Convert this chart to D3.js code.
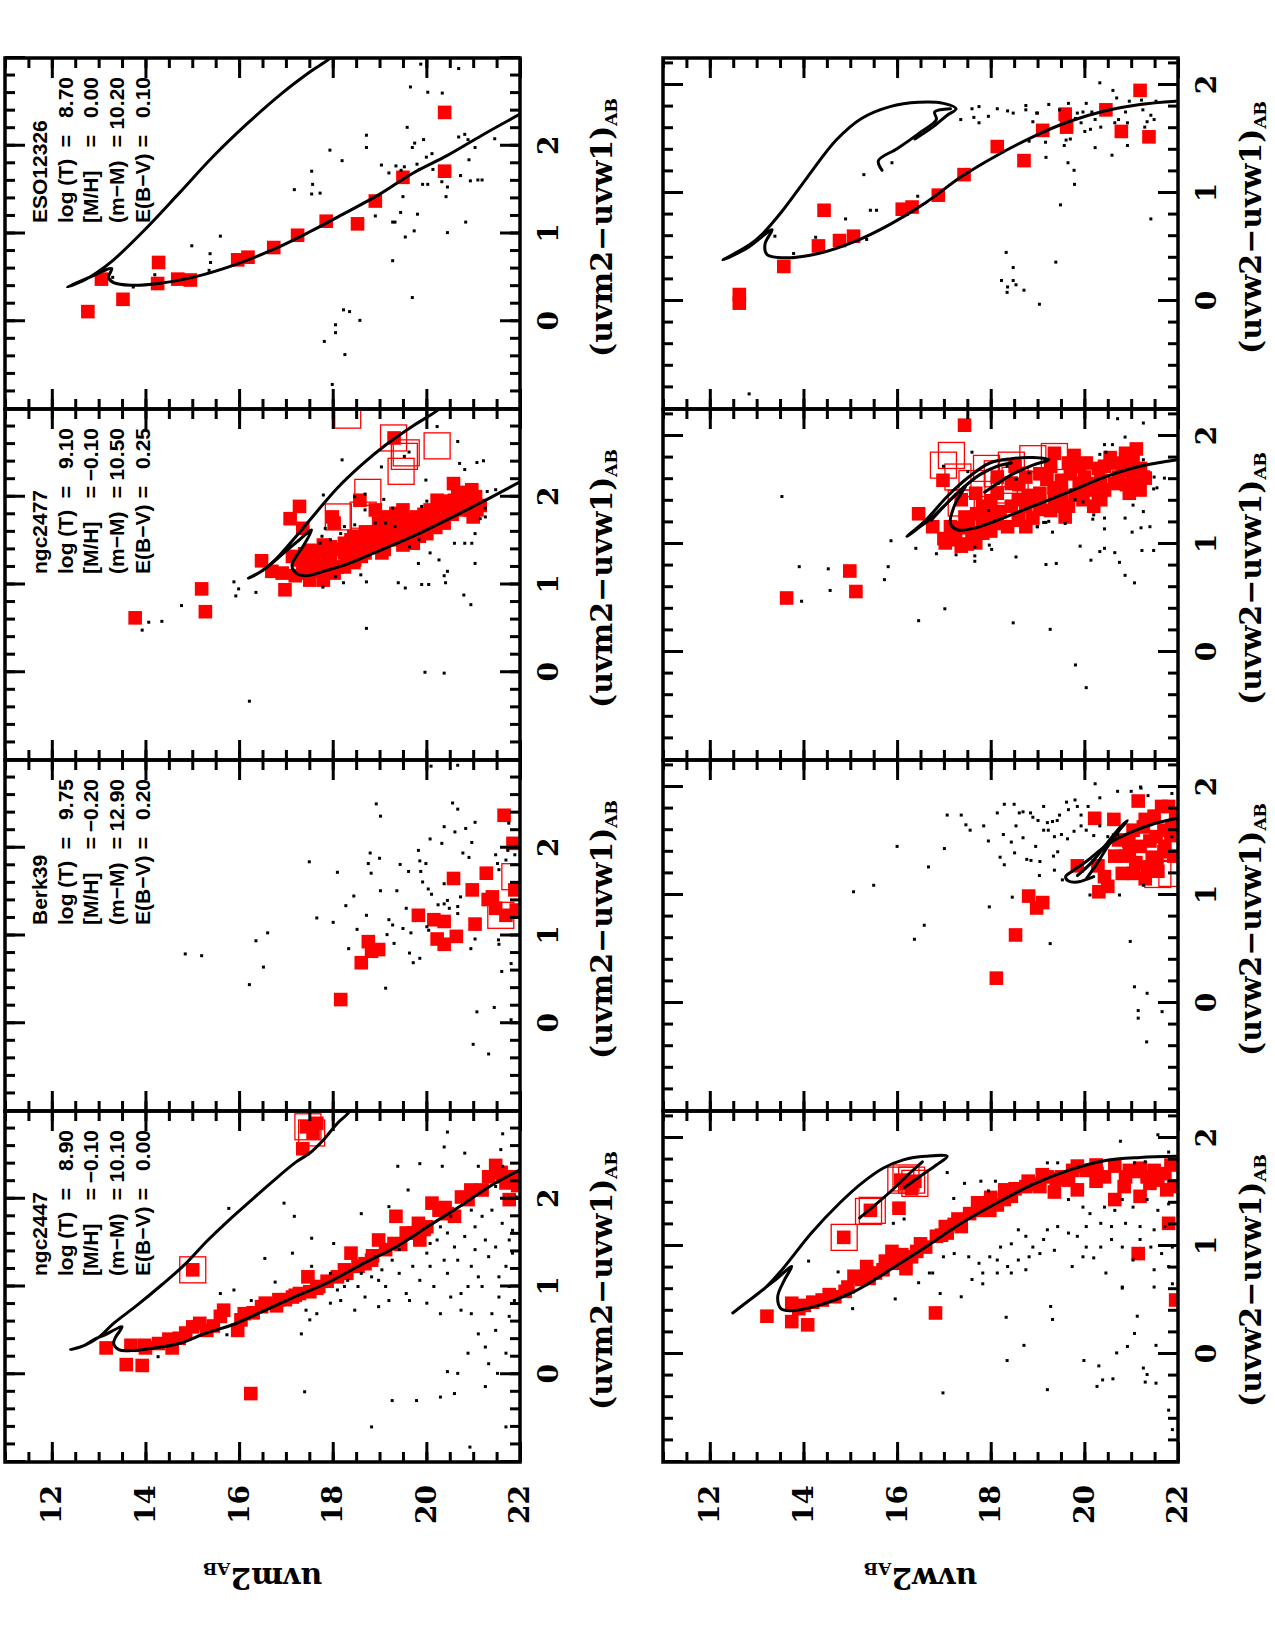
<!DOCTYPE html>
<html>
<head>
<meta charset="utf-8">
<script src="https://cdn.jsdelivr.net/npm/d3@7"></script>
<style>
  body { margin: 0; background: #fff; }
</style>
</head>
<body>
<div id="chart"></div>
<script>
// ---- cluster parameters (uvm2 row annotations) ----
var clusters = ["ngc2447", "Berk39", "ngc2477", "ESO12326"];
var logT     = ["8.90", "9.75", "9.10", "8.70"];
var metal    = ["\u22120.10", "\u22120.20", "\u22120.10", "0.00"];
var distMod  = ["10.10", "12.90", "10.50", "10.20"];
var redden   = ["0.00", "0.20", "0.25", "0.10"];

// ---- axes ----
var magDomain = [11, 22];
var magTicks = [12, 14, 16, 18, 20, 22];
var colorDomains = [[-1, 3], [-1, 2.25]];
var colorTicks = [[-1, 0, 1, 2, 3], [-1, 0, 1, 2]];
var colorLabels = [0, 1, 2];
var magTitles = ["uvm2", "uvw2"];
var colorTitles = ["(uvm2\u2212uvw1)", "(uvw2\u2212uvw1)"];

// ---- data: [colour, magnitude] ----
// uvm2 vs (uvm2-uvw1)
var m2_2447_red = [[0.30,13.16],[0.11,13.59],[0.10,13.93],[0.33,13.69],[0.33,13.98],[0.35,14.28],[0.30,14.57],[0.41,14.72],[0.54,15.01],[0.50,15.31],[0.73,15.67],[0.50,15.97],[0.69,16.11],[-0.22,16.25],[0.81,16.56],[0.85,16.85],[0.88,17.14],[1.11,17.47],[0.94,17.51],[1.06,17.88],[1.19,18.25],[1.38,18.39],[1.26,18.69],[1.53,18.98],[1.80,19.35],[1.49,19.31],[1.61,19.57],[1.72,19.83],[1.53,19.86],[1.95,20.12],[1.87,20.27],[1.80,20.60],[2.02,20.75],[2.25,21.33],[2.38,21.48],[2.18,21.70],[2.25,21.85],[1.99,21.77],
  [2.82,17.44],[2.75,17.58],[2.57,17.36],[2.86,17.66],[1.19,15.01],
  [0.47,14.86],[0.58,15.16],[0.66,15.60],[0.62,16.04],[0.77,16.48],[0.85,16.99],[0.92,17.29],[0.98,17.66],[1.11,18.10],[1.23,18.54],[1.30,18.83],[1.42,19.13],[1.61,19.72],[1.68,20.01],[1.83,20.45],[1.99,20.89],[2.10,21.19],[2.25,21.63],
  [0.30,14.00],[0.40,14.50],[0.55,15.45],[0.70,16.30],[0.78,16.80],[0.90,17.20],[1.00,17.70],[1.15,18.30],[1.35,18.85],[1.48,19.45],[1.65,19.95],[1.90,20.40],[2.10,20.95],[2.30,21.60],[2.15,21.95]];
var m2_2447_open = [[1.19,15.01],[2.82,17.47],[2.75,17.55]];
var m2_2447_dots = [[1.89,15.78],[1.95,16.96],[1.80,17.18],[1.55,17.55],[1.49,18.02],[1.32,16.55],[1.38,17.14],[1.83,18.61],[1.91,19.20],[2.37,19.39],[2.40,19.86],[2.37,20.34],[2.10,19.61],[2.59,20.38],[2.52,20.82],[2.76,20.45],[2.74,21.63],[2.56,21.59],[2.37,21.11],[2.14,21.48],[1.23,17.55],[1.15,17.95],[1.00,18.25],[1.00,18.54],[1.11,18.83],[1.19,19.05],[1.30,19.27],[1.15,19.42],[1.23,19.71],[1.38,20.01],[1.53,20.23],[1.61,20.45],[1.45,20.60],[1.57,20.82],[1.68,21.04],[1.80,21.19],[1.87,21.40],[1.72,21.62],[1.53,21.77],[1.38,21.84],[1.23,21.70],[1.11,21.55],[1.34,21.33],[1.42,21.04],[1.30,20.67],[1.15,20.45],[1.00,20.16],[1.07,19.86],[0.92,19.57],[0.84,19.20],[0.77,18.98],[0.88,18.69],[0.73,18.47],[0.84,18.17],[0.81,17.95],[0.69,17.66],[0.62,17.51],[0.96,18.10],[1.07,18.32],[1.15,18.61],[1.00,19.13],[1.23,20.08],[1.30,20.38],[1.23,20.96],[1.53,21.26],[1.45,21.48],[1.64,21.84],[1.80,20.52],[1.87,20.96],[1.68,20.30],[1.49,20.08],[1.42,19.42],[1.34,18.91],[1.07,18.98],[0.81,20.01],[0.73,20.74],[0.46,21.11],[0.50,21.48],[0.24,21.70],[0.12,21.33],[0.24,20.89],[0.03,20.45],[0.01,20.67],[-0.14,21.26],[-0.60,21.70],[-0.26,20.30],[-0.22,20.60],[-0.30,19.79],[-0.30,19.27],[-0.60,18.83],[-0.20,17.40],[0.46,17.33],[0.45,15.74],[0.20,14.27],[0.92,15.60],[0.96,15.89],[0.84,16.26],[1.05,16.77],[0.73,17.43],[0.92,20.74],[1.00,21.19],[0.88,21.55],[1.00,21.77],[0.84,21.88],[1.11,21.11],[1.00,20.89],[0.88,20.52],[0.69,20.30],[0.69,20.96],[0.69,21.40],[0.66,21.77],[0.31,21.26],[0.01,21.52],[-0.83,20.93],[0.84,19.64],[2.02,21.92],[2.37,21.63]];
var m2_2447_iso = [[[2.33,22.0],[2.16,21.41],[1.95,20.82],[1.70,20.08],[1.45,19.35],[1.25,18.61],[1.04,17.88],[0.87,17.14],[0.71,16.48],[0.57,15.89],[0.47,15.30],[0.35,14.72],[0.30,14.20],[0.27,13.69],[0.28,13.43],[0.35,13.32],[0.42,13.36],[0.54,13.50],[0.44,13.10],[0.41,12.95],[0.32,12.66],[0.28,12.40],[0.33,12.70],[0.42,13.00],[0.58,13.32],[0.79,13.83],[1.02,14.35],[1.26,14.86],[1.51,15.30],[1.74,15.75],[1.95,16.19],[2.19,16.70],[2.42,17.22],[2.52,17.51],[2.67,17.80],[2.86,18.10],[2.97,18.32],[3.09,18.47]]];

var m2_berk_red = [[0.27,18.17],[0.69,18.61],[0.93,18.76],[0.82,18.83],[0.84,18.98],[1.23,19.83],[1.18,20.16],[1.16,20.38],[0.96,20.23],[0.90,20.38],[0.99,20.64],[1.65,20.58],[1.52,20.98],[1.13,21.04],[1.71,21.28],[1.41,21.32],[1.44,21.41],[1.31,21.48],[1.23,21.70],[2.37,21.66],[2.05,21.85],[1.52,21.89],[1.29,21.92]];
var m2_berk_open = [[1.23,21.59],[1.67,21.89]];
var m2_berk_dots = [[1.84,17.50],[1.72,18.10],[1.20,17.66],[1.15,18.01],[1.45,18.45],[1.34,18.28],[1.23,18.72],[0.85,18.34],[1.07,18.52],[1.03,16.61],[0.94,16.36],[0.79,14.85],[0.77,15.20],[0.64,16.52],[0.44,16.22],[0.40,19.13],[2.50,18.93],[2.36,19.02],[1.94,18.80],[1.82,18.76],[1.71,18.82],[1.88,19.00],[1.51,19.02],[1.51,19.37],[1.81,19.44],[1.73,19.62],[1.97,19.83],[1.85,19.86],[1.82,19.99],[2.10,20.08],[2.93,20.10],[2.24,20.38],[2.05,20.33],[2.51,20.56],[2.44,20.67],[2.18,20.61],[2.22,20.84],[2.29,21.04],[2.06,20.97],[1.94,20.78],[1.89,20.91],[2.94,20.67],[1.73,19.88],[1.61,19.92],[1.53,20.04],[1.47,20.11],[1.35,20.25],[1.36,20.38],[1.40,20.45],[1.31,20.49],[1.33,20.67],[1.25,20.67],[1.44,20.73],[1.59,20.38],[1.18,19.20],[1.12,19.28],[1.01,19.16],[1.08,19.50],[1.31,19.57],[1.03,19.67],[0.91,19.31],[0.80,19.64],[0.74,19.86],[0.69,19.72],[1.10,20.01],[1.06,20.05],[0.96,21.04],[0.85,20.95],[0.13,21.08],[-0.24,21.00],[-0.35,21.33],[0.18,21.45],[0.59,21.61],[0.68,21.81],[0.95,21.54],[0.90,21.55],[1.82,21.52],[1.75,21.55],[1.86,21.70],[1.97,21.74],[2.28,21.76],[0.04,21.81],[1.92,21.89],[1.92,21.48]];
var m2_berk_iso = [];

var m2_2477_red = [[0.62,13.78],[0.95,15.20],[0.69,15.28],[1.27,16.48],[1.15,16.70],[0.94,16.98],[1.75,17.09],[1.89,17.29],[1.64,17.36],[1.32,17.14],[1.13,17.36],[1.38,17.66],[1.20,17.73],[1.43,17.95],[1.13,18.03],[1.47,18.25],[1.28,18.47],[1.51,18.61],[1.36,18.69],[1.58,18.91],[1.36,19.05],[1.66,19.20],[1.81,19.35],[1.74,19.57],[1.47,19.72],[1.77,19.79],[1.58,20.01],[1.96,20.23],[1.77,20.16],[1.85,20.45],[1.96,20.60],[2.15,20.58],[1.96,20.82],[2.08,20.97],[1.77,21.00],[1.85,21.08],[1.77,17.99],[1.70,18.03],[1.96,18.58],[2.67,19.31],[1.20,18.25],[1.43,18.76],[1.51,19.35],[1.70,19.94],[1.70,20.38],[1.85,20.75],[1.05,17.51],[1.05,17.80],[1.13,16.92],[1.70,18.98],[1.51,19.57],
  [1.39,17.51],[1.32,17.88],[1.36,18.25],[1.32,18.61],[1.51,18.98],[1.58,19.35],[1.66,19.72],[1.85,20.08],[1.74,20.30],[2.00,20.67],[1.93,20.89],[1.77,19.13],[1.85,19.50],[1.85,18.91],[1.20,17.88],[1.28,17.29],[1.51,18.39],
  [1.10,17.20],[1.20,17.40],[1.25,17.60],[1.15,17.60],[1.25,17.95],[1.40,18.10],[1.30,18.30],[1.42,18.50],[1.45,18.80],[1.50,18.80],[1.40,19.10],[1.60,19.00],[1.55,19.20],[1.70,19.40],[1.62,19.60],[1.55,19.85],[1.80,19.95],[1.65,20.20],[1.90,20.30],[1.80,20.55],[1.90,20.70],[2.05,20.80],[1.85,20.95],[2.00,21.05],[1.90,21.15],[1.60,18.70],[1.20,18.10],[1.25,18.45],[1.35,17.40],[1.45,17.80],[1.55,18.45],[1.62,19.35],[1.75,19.15],[1.95,20.50],[1.45,19.50]];
var m2_2477_open = [[2.93,18.32],[2.67,19.30],[2.50,19.57],[2.29,19.46],[2.58,20.23],[2.05,18.75],[1.79,18.65],[1.77,18.12],[2.46,19.53]];
var m2_2477_dots = [[0.48,13.93],[0.57,14.07],[0.58,14.35],[0.76,14.77],[1.03,15.89],[0.87,15.93],[0.95,15.99],[0.91,16.36],[-0.33,16.22],[2.42,18.20],[2.02,17.80],[2.34,19.04],[2.03,18.69],[1.97,19.09],[2.51,19.63],[2.46,19.53],[2.80,20.23],[2.63,20.67],[2.38,20.71],[2.31,20.82],[2.39,21.08],[2.41,21.22],[2.19,19.99],[1.95,20.01],[1.89,19.90],[2.06,21.30],[2.08,21.48],[1.87,21.26],[1.75,21.15],[1.77,21.26],[1.58,21.04],[1.47,20.97],[1.24,21.04],[1.47,20.82],[1.47,20.60],[1.15,20.45],[1.10,20.38],[1.02,20.41],[0.88,20.80],[0.77,20.95],[1.28,20.27],[1.36,20.08],[1.24,19.83],[1.00,19.90],[1.00,20.05],[0.96,19.55],[1.02,19.40],[1.03,18.72],[0.50,18.72],[1.11,18.60],[1.02,18.23],[1.09,18.06],[0.97,17.79],[1.55,17.77],[1.64,17.84],[1.47,17.73],[1.51,17.95],[1.58,18.17],[1.66,18.25],[1.68,18.47],[1.70,18.91],[1.70,19.13],[1.87,19.28],[1.43,19.64],[1.51,19.84],[0.00,19.97],[-0.01,20.38],[1.66,19.33],[1.85,18.69],[2.00,18.47]];
var m2_2477_iso = [[[2.17,22.0],[1.94,21.19],[1.74,20.45],[1.55,19.72],[1.38,18.98],[1.22,18.25],[1.15,17.80],[1.10,17.44],[1.13,17.22],[1.22,17.13],[1.32,17.22],[1.43,17.36],[1.62,17.55],[1.51,17.29],[1.38,17.00],[1.24,16.70],[1.15,16.48],[1.07,16.20],[1.16,16.50],[1.28,16.77],[1.55,17.22],[1.83,17.66],[2.10,18.10],[2.36,18.61],[2.59,19.13],[2.81,19.72],[2.97,20.20],[3.05,20.38]]];

var m2_eso_red = [[0.11,12.77],[0.48,13.06],[0.25,13.52],[0.67,14.28],[0.43,14.26],[0.48,14.69],[0.47,14.96],[0.70,15.97],[0.73,16.19],[0.84,16.74],[0.98,17.25],[1.14,17.86],[1.11,18.53],[1.37,18.91],[1.64,19.50],[2.38,20.39],[1.71,20.39]];
var m2_eso_open = [];
var m2_eso_dots = [[0.50,13.30],[0.39,13.74],[0.53,14.20],[0.86,14.99],[0.77,15.38],[0.67,15.39],[0.97,15.60],[0.58,15.36],[1.50,17.18],[1.71,17.55],[1.56,17.57],[1.45,17.55],[1.46,17.73],[1.95,17.94],[1.83,18.20],[2.12,18.72],[1.98,18.72],[1.78,19.04],[1.69,19.20],[1.77,19.35],[1.72,19.46],[1.76,19.53],[2.67,19.66],[2.21,19.59],[2.03,19.75],[1.98,19.70],[2.07,19.94],[1.79,19.80],[1.73,19.85],[1.87,20.00],[1.91,20.12],[1.73,20.14],[2.93,19.88],[2.61,20.03],[2.60,20.34],[2.88,20.69],[2.10,20.69],[2.07,20.89],[1.98,21.04],[2.13,20.82],[2.08,21.46],[1.66,20.73],[1.84,20.91],[1.60,20.94],[1.61,21.10],[1.61,21.19],[1.59,20.33],[1.53,20.45],[1.56,19.92],[1.56,20.03],[1.42,19.50],[1.42,20.42],[1.22,19.81],[1.24,19.45],[1.20,18.91],[1.13,19.28],[1.13,19.33],[1.03,19.74],[0.96,19.55],[1.01,20.45],[1.13,20.84],[0.69,19.28],[0.27,19.70],[0.13,18.23],[0.11,18.36],[0.01,18.58],[-0.04,18.06],[-0.13,18.06],[-0.23,17.82],[-0.38,18.26],[-0.72,17.99]];
var m2_eso_iso = [[[2.36,22.0],[2.12,21.19],[1.89,20.45],[1.69,19.72],[1.44,18.98],[1.23,18.25],[1.02,17.51],[0.83,16.78],[0.64,15.89],[0.50,15.01],[0.43,14.28],[0.41,13.69],[0.44,13.32],[0.50,13.21],[0.60,13.28],[0.50,12.80],[0.39,12.33],[0.47,12.70],[0.55,12.95],[0.70,13.32],[1.04,13.98],[1.46,14.72],[1.88,15.45],[2.26,16.19],[2.60,16.92],[2.84,17.51],[3.00,17.95],[3.08,18.10]]];

// uvw2 vs (uvw2-uvw1)
var w2_2447_red = [[0.35,13.22],[0.47,13.75],[0.30,13.75],[0.27,14.09],[0.45,14.02],[0.50,14.40],[0.53,14.67],[0.58,14.89],[0.72,15.08],[0.81,15.35],[0.75,15.54],[0.95,15.89],[0.84,16.00],[0.79,16.19],[0.95,16.42],[0.99,16.61],[0.38,16.82],[1.09,16.84],[1.18,17.03],[1.20,17.22],[1.33,17.75],[1.40,17.72],[1.38,18.14],[1.46,18.44],[1.53,18.52],[1.55,18.75],[1.57,18.98],[1.64,19.21],[1.50,19.36],[1.61,19.66],[1.74,19.85],[1.52,19.85],[1.70,20.04],[1.64,20.43],[1.74,20.65],[1.43,20.65],[1.70,20.96],[1.69,21.15],[1.46,21.19],[0.93,21.15],[1.70,21.49],[1.61,21.57],[1.52,21.76],[1.21,21.80],[0.50,21.95],[1.55,21.91],
  [1.08,14.86],[1.33,15.43],[1.35,16.04],[1.58,16.19],[1.60,16.38],[1.61,16.08],[1.53,16.31],
  [0.69,15.24],[0.78,15.70],[0.90,16.31],[1.12,17.07],[1.18,17.37],[1.33,17.98],[1.43,18.29],[1.55,19.05],[1.64,19.51],[1.67,20.27],[1.64,20.88],[1.64,21.34],[1.67,21.72],
  [0.42,13.90],[0.48,14.20],[0.55,14.55],[0.62,14.95],[0.70,15.40],[0.86,15.75],[0.92,16.10],[1.02,16.50],[1.10,16.95],[1.25,17.30],[1.30,17.55],[1.45,18.00],[1.52,18.30],[1.60,18.80],[1.66,19.10],[1.62,19.40],[1.70,19.75],[1.75,20.25],[1.60,20.25],[1.55,20.85],[1.72,21.20],[1.58,21.40],[1.75,21.85]];
var w2_2447_open = [[1.08,14.87],[1.32,15.39],[1.33,15.47],[1.61,16.08],[1.61,16.31],[1.58,16.38],[1.63,16.19]];
var w2_2447_dots = [[1.68,17.07],[1.44,17.21],[1.58,17.44],[1.60,17.79],[1.51,17.95],[1.60,18.10],[1.77,19.21],[1.77,19.43],[1.69,19.59],[1.97,20.77],[1.77,21.07],[1.78,21.30],[2.03,21.57],[1.87,21.80],[1.43,19.66],[1.36,19.97],[1.30,20.12],[1.36,20.43],[1.33,20.65],[1.43,20.81],[1.36,21.04],[1.43,21.34],[1.33,21.57],[1.39,21.80],[1.18,21.72],[1.15,21.49],[1.18,21.19],[1.21,20.88],[1.18,20.58],[1.21,20.35],[1.18,20.04],[1.09,19.85],[1.12,19.66],[1.18,19.43],[1.15,19.21],[1.06,19.13],[0.99,18.90],[1.09,18.75],[1.15,18.59],[1.02,18.44],[0.99,18.21],[0.90,17.98],[0.84,17.75],[0.90,17.53],[0.93,17.22],[0.90,16.99],[0.75,16.76],[0.56,16.92],[0.53,17.37],[0.69,17.60],[0.65,17.83],[0.75,18.14],[0.81,18.36],[0.87,18.59],[0.90,18.82],[0.93,19.05],[0.96,19.36],[0.81,19.74],[0.99,20.04],[0.99,20.35],[1.06,20.58],[0.99,20.81],[1.06,21.19],[0.99,21.42],[0.93,21.65],[0.99,21.88],[0.81,21.80],[0.65,21.88],[0.62,21.49],[0.78,21.49],[0.87,21.04],[0.62,20.81],[0.75,20.46],[0.89,20.20],[0.90,19.97],[0.78,18.75],[0.75,18.44],[0.87,18.14],[0.75,17.83],[0.44,19.28],[0.32,19.32],[0.34,18.33],[0.08,18.71],[-0.06,18.35],[-0.06,19.99],[-0.11,20.31],[-0.30,20.27],[-0.23,20.61],[-0.24,20.39],[-0.33,19.21],[-0.36,16.98],[0.07,20.92],[0.01,20.69],[0.19,21.07],[0.35,21.13],[-0.13,21.26],[-0.19,21.34],[-0.26,21.30],[0.08,21.53],[-0.27,21.53],[-0.52,21.80],[-0.70,21.88],[0.61,20.81],[1.21,15.92],[1.25,16.15],[0.76,14.74],[0.42,15.05],[0.86,14.11],[0.51,15.96],[0.66,16.46],[0.75,16.69]];
var w2_2447_iso = [
  [[1.83,21.95],[1.82,21.19],[1.79,20.43],[1.70,19.66],[1.57,18.90],[1.40,18.14],[1.21,17.37],[0.99,16.61],[0.78,15.85],[0.58,15.09],[0.45,14.32],[0.40,13.71],[0.42,13.52],[0.53,13.45],[0.69,13.60],[0.81,13.75],[0.69,13.41],[0.56,13.03],[0.38,12.49],[0.50,12.85],[0.62,13.20],[0.79,13.56],[1.12,14.17],[1.40,14.78],[1.58,15.24],[1.72,15.70],[1.80,16.15],[1.83,16.61],[1.83,17.07],[1.75,16.84],[1.66,16.54],[1.54,16.15]],
  [[1.26,15.20],[1.50,15.85],[1.69,16.31],[1.78,16.54]]];

var w2_berk_red = [[0.23,18.12],[0.63,18.53],[0.99,18.81],[0.88,18.98],[0.93,19.11],[1.27,19.85],[1.71,20.22],[1.27,20.29],[1.03,20.31],[1.17,20.43],[1.70,20.63],[1.51,20.73],[1.20,20.81],[1.36,20.88],[1.60,21.04],[1.87,21.15],[1.45,21.19],[1.26,21.34],[1.73,21.49],[1.54,21.53],[1.22,21.57],[1.45,21.72],[1.82,21.80],[1.63,21.87],[1.36,21.91],[1.36,20.65],[1.42,20.96],[1.63,21.26],[1.08,20.50],[1.82,21.65],
  [1.30,21.10],[1.50,21.40],[1.70,21.30],[1.40,21.70],[1.60,21.70],[1.75,21.95],[1.15,21.30],[1.30,21.55],[1.50,20.95],[1.20,21.05],[1.55,21.85],[1.35,21.45]];
var w2_berk_open = [[1.19,21.57],[1.20,21.87]];
var w2_berk_dots = [[1.74,17.07],[1.74,17.37],[1.65,17.47],[1.60,17.56],[1.64,17.85],[1.50,17.95],[1.76,18.14],[1.84,18.29],[1.84,18.50],[1.76,18.61],[1.77,18.69],[1.76,18.85],[1.72,18.90],[1.69,19.01],[1.82,19.13],[1.67,19.21],[1.68,19.32],[1.69,19.42],[1.74,19.47],[1.86,19.62],[1.79,19.66],[1.88,19.80],[1.82,19.85],[1.74,19.93],[1.82,20.08],[2.03,20.23],[1.90,20.33],[1.96,20.71],[1.96,21.00],[2.00,21.20],[1.92,21.36],[1.94,21.87],[1.56,18.27],[1.49,18.44],[1.64,18.54],[1.53,18.69],[1.45,18.96],[1.60,19.13],[1.60,19.23],[1.54,19.36],[1.56,19.51],[1.52,19.64],[1.59,19.78],[1.64,19.93],[1.60,20.04],[1.55,20.20],[1.64,20.33],[1.54,20.50],[1.35,18.20],[1.28,18.29],[1.39,18.51],[1.33,18.77],[1.32,18.86],[1.31,19.05],[1.36,19.34],[1.40,19.43],[1.23,19.36],[1.14,19.53],[1.18,19.04],[0.98,18.46],[0.89,17.97],[1.45,16.00],[1.43,17.01],[1.26,16.67],[1.09,15.50],[1.03,15.07],[0.72,16.58],[0.59,16.37],[0.55,19.27],[0.57,20.98],[0.15,21.07],[0.09,21.34],[-0.07,21.15],[-0.14,21.15],[-0.08,21.66],[-0.36,21.33],[1.00,20.12],[1.00,20.75],[1.09,21.26],[1.56,20.71],[1.99,21.21],[1.54,21.87]];
var w2_berk_iso = [
  [[1.71,21.99],[1.66,21.49],[1.59,21.04],[1.51,20.65],[1.42,20.35],[1.31,20.04],[1.22,19.74],[1.17,19.60],[1.13,19.66],[1.12,19.85],[1.15,20.08],[1.17,20.20]],
  [[1.15,20.04],[1.29,20.27],[1.45,20.50],[1.59,20.73],[1.69,20.92],[1.62,20.75],[1.46,20.45],[1.30,20.15],[1.18,19.85]]];

var w2_2477_red = [[0.50,13.64],[0.75,14.99],[0.56,15.12],[2.10,17.44],[1.28,16.46],[1.59,16.98],[1.16,16.76],[1.01,17.03],[0.98,17.37],[1.01,17.68],[1.16,17.14],[1.22,17.53],[1.10,17.83],[1.19,18.14],[1.16,18.36],[1.22,18.59],[1.35,18.75],[1.32,19.05],[1.41,19.36],[1.35,19.66],[1.41,19.97],[1.35,20.20],[1.41,20.35],[1.75,20.04],[1.72,20.43],[1.75,20.65],[1.84,20.88],[1.88,21.11],[1.50,21.19],[1.62,21.26],[1.61,21.30],[1.47,20.96],[1.56,20.65],[1.65,21.03],[1.84,19.36],[1.82,19.78],[1.35,17.83],[1.47,18.14],[1.56,18.44],[1.62,18.75],[1.65,19.05],[1.59,19.51],[1.56,19.89],[1.59,20.35],[1.41,17.37],[1.47,17.68],[1.62,18.14],[1.72,18.52],[1.72,19.28],[1.50,20.04],[1.62,20.73],[1.25,19.59],[1.24,18.90],[1.75,19.66],
  [1.22,17.83],[1.41,18.59],[1.47,19.05],[1.47,19.51],[1.50,20.43],[1.72,20.81],[1.78,21.04],[1.16,18.75],[1.31,19.28],[1.04,17.22],[1.10,17.60],[1.31,17.98],[1.35,18.44],[1.72,19.89],[1.56,20.20],
  [1.05,17.00],[1.15,17.40],[1.25,17.45],[1.20,17.90],[1.30,18.20],[1.40,18.00],[1.25,18.60],[1.45,18.80],[1.55,18.60],[1.35,19.40],[1.60,19.20],[1.45,19.80],[1.65,19.70],[1.45,20.30],[1.70,20.30],[1.55,20.90],[1.80,20.55],[1.70,21.20],[1.55,21.10],[1.30,18.05],[1.10,17.25],[1.00,17.50],[1.12,18.00],[1.28,17.70],[1.40,19.00],[1.52,19.35],[1.62,20.00],[1.68,20.95]];
var w2_2477_open = [[1.82,17.16],[1.73,16.99],[1.62,17.30],[1.70,17.91],[1.73,18.44],[1.79,18.90],[1.81,19.36],[1.65,18.14],[1.59,18.52],[1.56,17.60],[1.50,18.29],[1.38,17.37]];
var w2_2477_dots = [[1.44,13.54],[0.79,13.91],[0.77,14.53],[0.57,14.57],[0.47,13.96],[0.67,15.73],[0.79,15.81],[1.03,15.87],[0.96,16.40],[0.40,17.02],[0.29,16.46],[0.91,16.84],[0.90,17.26],[0.84,17.66],[0.89,17.66],[0.99,17.97],[0.95,18.02],[0.88,18.54],[0.27,18.48],[1.16,18.99],[1.20,19.18],[1.11,19.32],[0.81,19.18],[0.82,19.40],[0.21,19.27],[-0.12,19.81],[-0.33,20.04],[0.98,19.91],[0.85,20.14],[0.93,20.33],[0.96,20.43],[1.14,20.43],[0.92,20.65],[0.83,20.75],[0.71,20.87],[0.64,21.07],[0.94,21.23],[0.94,21.48],[1.15,21.21],[1.36,21.04],[1.30,21.26],[1.23,20.18],[1.27,20.20],[1.24,20.43],[1.24,20.87],[2.16,20.71],[2.12,21.26],[1.99,20.87],[1.92,20.43],[1.92,20.60],[1.83,20.33],[1.85,20.46],[1.62,21.49],[1.61,21.71],[1.51,21.48],[1.52,21.55],[1.11,21.02],[1.16,21.40],[1.78,21.26],[1.85,17.60],[1.72,16.99],[1.67,17.51],[1.72,18.35],[1.41,19.80],[1.39,19.97],[1.50,19.72],[1.19,19.59],[1.21,19.24],[1.16,19.00],[1.20,19.13],[0.97,17.66],[1.31,17.95],[1.56,18.16],[1.60,18.54],[1.66,18.82]];
var w2_2477_iso = [
  [[1.78,21.99],[1.72,21.19],[1.62,20.43],[1.48,19.66],[1.35,18.90],[1.22,18.14],[1.15,17.68],[1.13,17.30],[1.19,17.14],[1.35,17.22],[1.47,17.37],[1.54,17.47],[1.41,17.14],[1.25,16.76],[1.15,16.46],[1.07,16.21],[1.22,16.61],[1.44,17.07],[1.62,17.53],[1.75,17.98],[1.79,18.44],[1.80,18.90],[1.78,19.24],[1.73,18.90],[1.64,18.44],[1.48,17.87]],
  [[1.22,16.73],[1.38,17.07],[1.52,17.41],[1.64,17.76],[1.72,18.14],[1.75,18.44]]];

var w2_eso_red = [[0.06,12.63],[-0.02,12.63],[0.32,13.58],[0.51,14.32],[0.84,14.44],[0.56,14.77],[0.60,15.07],[0.85,16.11],[0.87,16.32],[0.98,16.88],[1.17,17.43],[1.43,18.14],[1.30,18.71],[1.58,19.11],[1.73,19.59],[1.61,19.62],[1.77,20.46],[1.57,20.79],[1.95,21.19],[1.52,21.38]];
var w2_eso_open = [];
var w2_eso_dots = [[-0.86,12.84],[0.60,13.39],[0.44,13.79],[0.59,14.26],[0.76,14.90],[1.17,15.29],[0.84,15.43],[0.84,15.56],[0.57,15.35],[1.28,15.89],[0.97,16.44],[1.68,17.36],[1.78,17.60],[1.80,17.75],[1.70,17.64],[1.65,17.75],[1.71,17.95],[1.78,18.14],[1.76,18.36],[1.74,18.48],[1.81,18.75],[1.77,18.75],[1.74,19.00],[1.82,19.24],[1.77,19.47],[1.83,19.66],[1.74,19.85],[1.75,19.97],[1.83,20.04],[1.75,20.16],[2.02,20.33],[1.95,20.61],[1.88,20.69],[1.75,20.88],[1.85,20.96],[1.86,21.22],[1.77,21.25],[1.72,21.42],[1.85,21.53],[1.68,21.49],[1.66,21.34],[1.61,21.29],[1.65,20.92],[1.65,20.65],[1.68,20.23],[1.59,20.13],[1.57,20.01],[1.65,19.93],[1.69,19.81],[1.66,18.90],[1.74,18.98],[1.48,18.82],[1.47,19.17],[1.33,19.18],[1.44,19.57],[1.49,19.61],[1.50,19.70],[1.28,19.65],[1.21,19.78],[1.08,19.79],[0.89,19.49],[1.42,20.23],[1.61,20.35],[1.35,20.59],[1.68,20.73],[1.44,20.92],[0.76,21.42],[0.45,18.33],[0.31,18.48],[0.19,18.23],[0.19,18.48],[0.13,18.36],[0.15,18.54],[0.08,18.35],[0.10,18.71],[-0.03,19.04],[0.36,19.39]];
var w2_eso_iso = [
  [[1.85,21.95],[1.82,21.19],[1.76,20.43],[1.66,19.66],[1.52,18.90],[1.35,18.14],[1.15,17.37],[0.91,16.61],[0.71,15.85],[0.55,15.09],[0.44,14.32],[0.40,13.56],[0.43,13.22],[0.53,13.18],[0.66,13.33],[0.49,12.80],[0.38,12.28],[0.52,12.85],[0.61,13.10],[0.84,13.56],[1.15,14.09],[1.49,14.70],[1.69,15.24],[1.80,15.85],[1.84,16.46],[1.83,16.99],[1.78,17.26],[1.72,17.07],[1.61,16.76],[1.50,16.38]],
  [[1.21,15.68],[1.30,15.60],[1.41,16.00],[1.55,16.46],[1.68,16.84],[1.75,16.80],[1.78,17.14]]];

// ---- layout ----
var W = 1275, H = 1650;
var colX = [188, 539, 890, 1241], panelW = 351;
var rowY = [[5, 520], [663, 1178]];
var titleOffset = [92, 83];
var majorLen = 20, minorLen = 10;

var panels = [
  {row: 0, col: 0, red: m2_2447_red, open: m2_2447_open, dots: m2_2447_dots, iso: m2_2447_iso},
  {row: 0, col: 1, red: m2_berk_red, open: m2_berk_open, dots: m2_berk_dots, iso: m2_berk_iso},
  {row: 0, col: 2, red: m2_2477_red, open: m2_2477_open, dots: m2_2477_dots, iso: m2_2477_iso},
  {row: 0, col: 3, red: m2_eso_red, open: m2_eso_open, dots: m2_eso_dots, iso: m2_eso_iso},
  {row: 1, col: 0, red: w2_2447_red, open: w2_2447_open, dots: w2_2447_dots, iso: w2_2447_iso},
  {row: 1, col: 1, red: w2_berk_red, open: w2_berk_open, dots: w2_berk_dots, iso: w2_berk_iso},
  {row: 1, col: 2, red: w2_2477_red, open: w2_2477_open, dots: w2_2477_dots, iso: w2_2477_iso},
  {row: 1, col: 3, red: w2_eso_red, open: w2_eso_open, dots: w2_eso_dots, iso: w2_eso_iso}
];

var svg = d3.select("#chart").append("svg")
  .attr("width", W).attr("height", H)
  .style("display", "block");
svg.append("rect").attr("width", W).attr("height", H).attr("fill", "#fff");

// the figure is drawn in landscape and turned a quarter turn
var land = svg.append("g").attr("transform", "translate(0," + H + ") rotate(-90)");

function styleAxis(g) {
  g.select(".domain").remove();
  g.selectAll(".tick line").attr("stroke", "#000").attr("stroke-width", 3);
  g.selectAll(".tick text").attr("fill", "#000");
  g.attr("font-family", "'DejaVu Serif', serif").attr("font-size", 28).attr("font-weight", "bold");
}

panels.forEach(function(p, i) {
  var x0 = colX[p.col], y0 = rowY[p.row][0], y1 = rowY[p.row][1];
  var x = d3.scaleLinear().domain(colorDomains[p.row]).range([x0, x0 + panelW]);
  var y = d3.scaleLinear().domain(magDomain).range([y0, y1]);
  var dom = colorDomains[p.row];
  var cMinor = d3.range(dom[0], dom[1] + 0.001, 0.2);
  var mMinor = d3.range(magDomain[0], magDomain[1] + 0.001, 0.5);

  land.append("clipPath").attr("id", "clip" + i)
    .append("rect").attr("x", x0).attr("y", y0).attr("width", panelW).attr("height", y1 - y0);
  var g = land.append("g").attr("clip-path", "url(#clip" + i + ")");

  g.selectAll("rect.red").data(p.red).enter().append("rect")
    .attr("class", "red")
    .attr("x", function(d) { return x(d[0]) - 6.8; })
    .attr("y", function(d) { return y(d[1]) - 6.8; })
    .attr("width", 13.6).attr("height", 13.6)
    .attr("fill", "#ff0000");

  g.selectAll("rect.open").data(p.open).enter().append("rect")
    .attr("class", "open")
    .attr("x", function(d) { return x(d[0]) - 13; })
    .attr("y", function(d) { return y(d[1]) - 13; })
    .attr("width", 26).attr("height", 26)
    .attr("fill", "none").attr("stroke", "#ff0000").attr("stroke-width", 1.3);

  g.selectAll("rect.dot").data(p.dots).enter().append("rect")
    .attr("class", "dot")
    .attr("x", function(d) { return x(d[0]) - 1.5; })
    .attr("y", function(d) { return y(d[1]) - 1.5; })
    .attr("width", 3).attr("height", 3)
    .attr("fill", "#000");

  var line = d3.line().x(function(d) { return x(d[0]); }).y(function(d) { return y(d[1]); })
    .curve(d3.curveCatmullRom.alpha(0.5));
  g.selectAll("path.iso").data(p.iso).enter().append("path")
    .attr("class", "iso")
    .attr("d", line)
    .attr("fill", "none").attr("stroke", "#000").attr("stroke-width", 3)
    .attr("stroke-linejoin", "round").attr("stroke-linecap", "round");

  // colour axis, landscape bottom / top
  var bot = land.append("g").attr("transform", "translate(0," + y1 + ")")
    .call(d3.axisBottom(x).tickValues(colorTicks[p.row]).tickSize(-majorLen).tickPadding(18)
      .tickFormat(function(d) { return colorLabels.indexOf(d) >= 0 ? d : ""; }));
  styleAxis(bot);
  styleAxis(land.append("g").attr("transform", "translate(0," + y1 + ")")
    .call(d3.axisBottom(x).tickValues(cMinor).tickSize(-minorLen).tickFormat("")));
  styleAxis(land.append("g").attr("transform", "translate(0," + y0 + ")")
    .call(d3.axisTop(x).tickValues(colorTicks[p.row]).tickSize(-majorLen).tickFormat("")));
  styleAxis(land.append("g").attr("transform", "translate(0," + y0 + ")")
    .call(d3.axisTop(x).tickValues(cMinor).tickSize(-minorLen).tickFormat("")));

  // magnitude axis, landscape left / right
  var left = land.append("g").attr("transform", "translate(" + x0 + ",0)")
    .call(d3.axisLeft(y).tickValues(magTicks).tickSize(-majorLen).tickPadding(23)
      .tickFormat(function(d) { return p.col === 0 ? d : ""; }));
  styleAxis(left);
  styleAxis(land.append("g").attr("transform", "translate(" + x0 + ",0)")
    .call(d3.axisLeft(y).tickValues(mMinor).tickSize(-minorLen).tickFormat("")));
  styleAxis(land.append("g").attr("transform", "translate(" + (x0 + panelW) + ",0)")
    .call(d3.axisRight(y).tickValues(magTicks).tickSize(-majorLen).tickFormat("")));
  styleAxis(land.append("g").attr("transform", "translate(" + (x0 + panelW) + ",0)")
    .call(d3.axisRight(y).tickValues(mMinor).tickSize(-minorLen).tickFormat("")));

  land.append("rect")
    .attr("x", x0).attr("y", y0).attr("width", panelW).attr("height", y1 - y0)
    .attr("fill", "none").attr("stroke", "#000").attr("stroke-width", 3.5);

  // colour axis title
  var ct = land.append("text")
    .attr("x", x0 + panelW / 2 + 6).attr("y", y1 + titleOffset[p.row])
    .attr("text-anchor", "middle")
    .attr("font-family", "'DejaVu Serif', serif").attr("font-size", 30).attr("font-weight", "bold");
  ct.append("tspan").text(colorTitles[p.row]);
  ct.append("tspan").attr("font-size", 17).attr("dy", 5).text("AB");

  // cluster annotation (uvm2 row only)
  if (p.row === 0) {
    var rows = [
      [clusters[p.col], "", ""],
      ["log (T)", "=", logT[p.col]],
      ["[M/H]", "=", metal[p.col]],
      ["(m\u2212M)", "=", distMod[p.col]],
      ["E(B\u2212V)", "=", redden[p.col]]
    ];
    var ann = land.append("g")
      .attr("font-family", "'Liberation Sans', Arial, sans-serif")
      .attr("font-size", 21).attr("font-weight", "bold").attr("fill", "#000");
    rows.forEach(function(r, k) {
      var by = y0 + 42 + k * 25.7;
      ann.append("text").attr("x", x0 + 186).attr("y", by).text(r[0]);
      if (r[1]) {
        ann.append("text").attr("x", x0 + 268).attr("y", by).attr("text-anchor", "middle").text(r[1]);
        ann.append("text").attr("x", x0 + 332).attr("y", by).attr("text-anchor", "end").text(r[2]);
      }
    });
  }
});

// magnitude axis titles
magTitles.forEach(function(t, r) {
  var yt = land.append("text")
    .attr("transform", "translate(82," + ((rowY[r][0] + rowY[r][1]) / 2) + ") rotate(-90)")
    .attr("text-anchor", "middle")
    .attr("font-family", "'DejaVu Serif', serif").attr("font-size", 30).attr("font-weight", "bold");
  yt.append("tspan").text(t);
  yt.append("tspan").attr("font-size", 17).attr("dy", 5).text("AB");
});
</script>
</body>
</html>
